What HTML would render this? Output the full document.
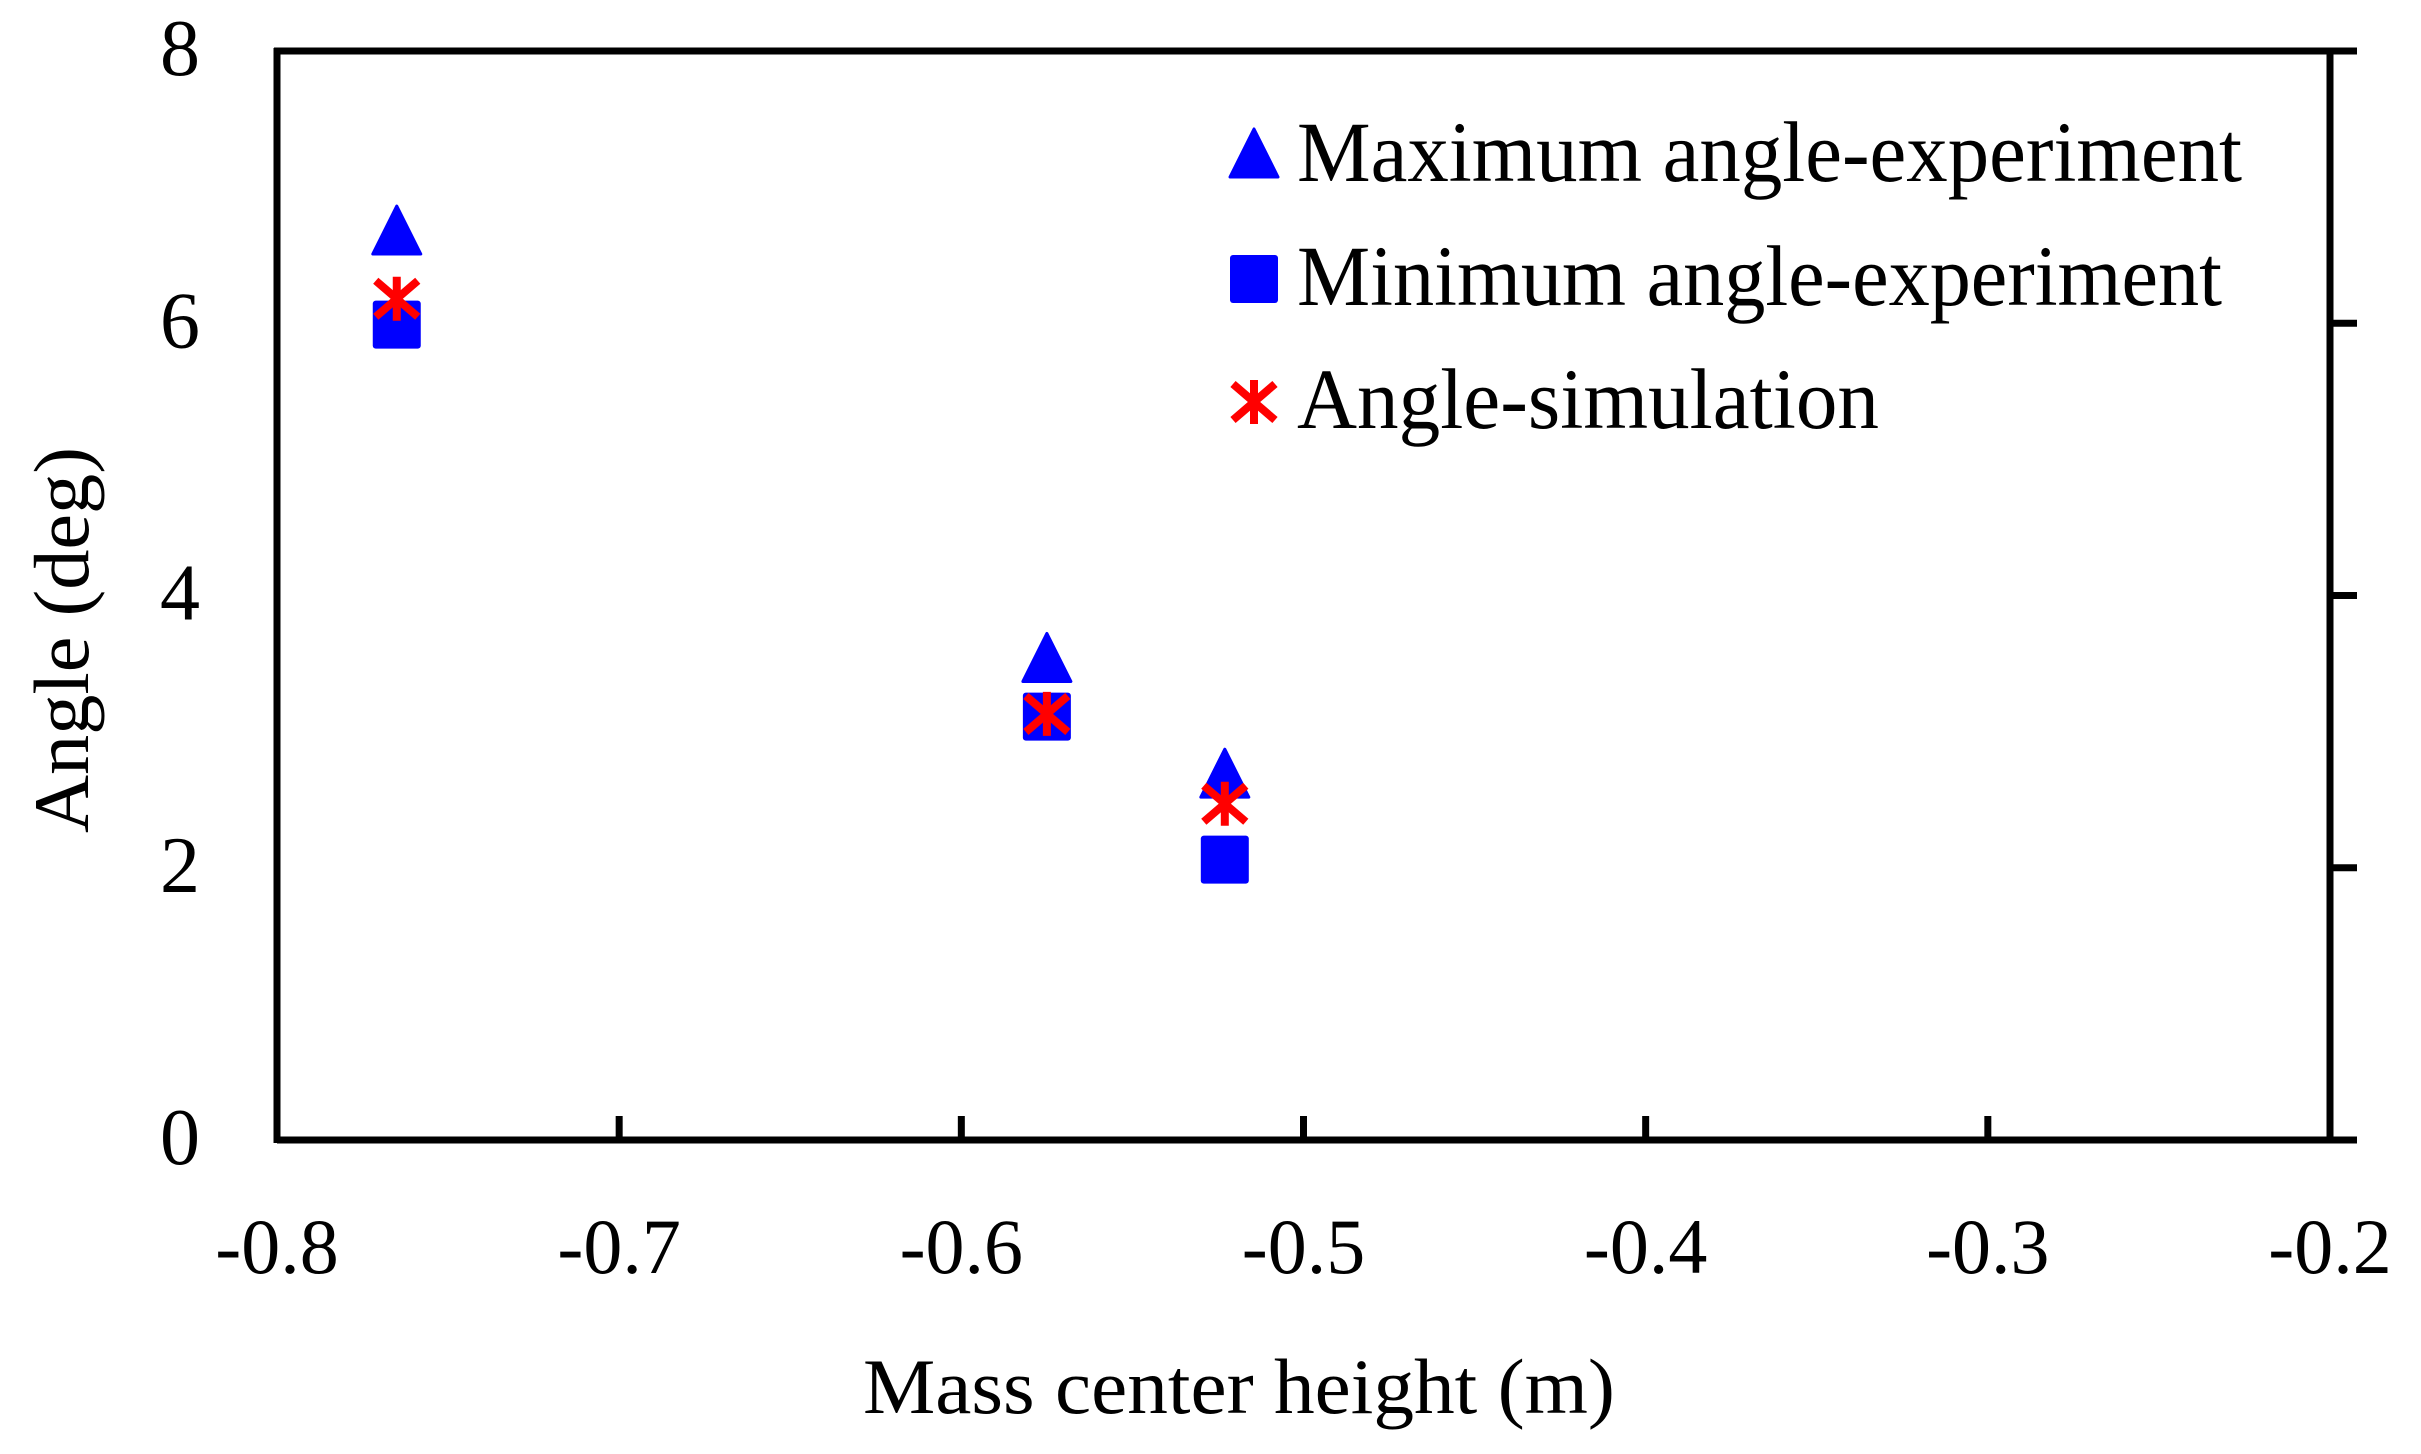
<!DOCTYPE html>
<html><head><meta charset="utf-8"><style>html,body{margin:0;padding:0;background:#fff}svg{display:block}</style></head>
<body>
<svg id="chart" width="2421" height="1454" viewBox="0 0 2421 1454" xmlns="http://www.w3.org/2000/svg" font-family="'Liberation Serif', serif">
<g id="axes"></g>
<g id="marks"></g>
<g id="legend"></g>
</svg>
<script>
const xValues = [-0.765, -0.575, -0.523];
const maxAngle = [6.67, 3.53, 2.68];
const minAngle = [5.99, 3.11, 2.06];
const simAngle = [6.18, 3.13, 2.47];
const xTicks = [-0.8, -0.7, -0.6, -0.5, -0.4, -0.3, -0.2];
const xTickLabels = ["-0.8", "-0.7", "-0.6", "-0.5", "-0.4", "-0.3", "-0.2"];
const yTicks = [0, 2, 4, 6, 8];
const yTickLabels = ["0", "2", "4", "6", "8"];
const legendLabels = ["Maximum angle-experiment", "Minimum angle-experiment", "Angle-simulation"];

const NS = "http://www.w3.org/2000/svg";
const X0 = 277, X1 = 2330, Y0 = 1140, Y1 = 51;
const xs = v => X0 + (v - (-0.8)) / 0.6 * (X1 - X0);
const ys = v => Y0 - v / 8 * (Y0 - Y1);
function mk(tag, attrs, parent) {
  const e = document.createElementNS(NS, tag);
  for (const k in attrs) e.setAttribute(k, attrs[k]);
  parent.appendChild(e);
  return e;
}
const axes = document.getElementById('axes');
const marks = document.getElementById('marks');
const legend = document.getElementById('legend');
const sw = 7;

let l;
l = mk('line', {x1: X0, y1: Y0, x2: 2357, y2: Y0, stroke: '#000', 'stroke-width': sw}, axes);
 
l = mk('line', {x1: X0 - 3, y1: Y1, x2: 2357, y2: Y1, stroke: '#000', 'stroke-width': sw}, axes);
 
l = mk('line', {x1: X0, y1: Y1 - 3, x2: X0, y2: Y0 + 3, stroke: '#000', 'stroke-width': sw}, axes);
 
l = mk('line', {x1: X1, y1: Y1, x2: X1, y2: Y0 + 3, stroke: '#000', 'stroke-width': sw}, axes);
 

xTicks.forEach((v, i) => {
  const x = xs(v);
  if (i > 0 && i < xTicks.length - 1) {
    const t = mk('line', {x1: x, y1: Y0, x2: x, y2: Y0 - 24, stroke: '#000', 'stroke-width': sw}, axes);
    
    
  }
  const tx = mk('text', {x: x, y: 1273, 'font-size': 78, 'text-anchor': 'middle', fill: '#000'}, axes);
  tx.textContent = xTickLabels[i];
  
  
});
yTicks.forEach((v, i) => {
  const y = ys(v);
  if (v > 0 && v < 8) {
    const t = mk('line', {x1: X1, y1: y, x2: X1 + 27, y2: y, stroke: '#000', 'stroke-width': sw}, axes);
    
    
  }
  const tx = mk('text', {x: 200, y: y + 24, 'font-size': 80, 'text-anchor': 'end', fill: '#000'}, axes);
  tx.textContent = yTickLabels[i];
  
  
});
let tt = mk('text', {x: 1239, y: 1413, 'font-size': 78, 'text-anchor': 'middle', textLength: 752, lengthAdjust: 'spacingAndGlyphs', fill: '#000'}, axes);
tt.textContent = 'Mass center height (m)';
 
tt = mk('text', {x: 0, y: 0, 'font-size': 78, 'text-anchor': 'middle', textLength: 386, lengthAdjust: 'spacingAndGlyphs', fill: '#000', transform: 'translate(88,640) rotate(-90)'}, axes);
tt.textContent = 'Angle (deg)';
 

function tri(cx, cy, parent) {
  return mk('path', {d: `M${cx} ${cy - 26} L${cx + 24} ${cy + 22} L${cx - 24} ${cy + 22} Z`, fill: '#0000ff', stroke: '#0000ff', 'stroke-width': 3, 'stroke-linejoin': 'round'}, parent);
}
function sq(cx, cy, parent) {
  return mk('rect', {x: cx - 24, y: cy - 24, width: 48, height: 48, rx: 3, fill: '#0000ff'}, parent);
}
function star(cx, cy, parent) {
  const g = mk('g', {stroke: '#ff0000', 'stroke-width': 8}, parent);
  mk('line', {x1: cx, y1: cy - 22, x2: cx, y2: cy + 22}, g);
  mk('line', {x1: cx - 21, y1: cy - 18, x2: cx + 21, y2: cy + 18}, g);
  mk('line', {x1: cx - 21, y1: cy + 18, x2: cx + 21, y2: cy - 18}, g);
  return g;
}
xValues.forEach((v, i) => {
  const x = xs(v);
  const a = tri(x, ys(maxAngle[i]), marks);
  
  
  const b = sq(x, ys(minAngle[i]), marks);
  
  
  const c = star(x, ys(simAngle[i]), marks);
  
  
});

const legY = [155, 279, 402];
const legW = [945, 925, 582];
const makers = [tri, sq, star];
legendLabels.forEach((lab, i) => {
  const g = mk('g', {}, legend);
  
  
  makers[i](1254, legY[i], g);
  const t = mk('text', {x: 1297, y: legY[i] + 26, 'font-size': 86, textLength: legW[i], lengthAdjust: 'spacingAndGlyphs', fill: '#000'}, g);
  t.textContent = lab;
  
  
});
</script>
</body></html>
